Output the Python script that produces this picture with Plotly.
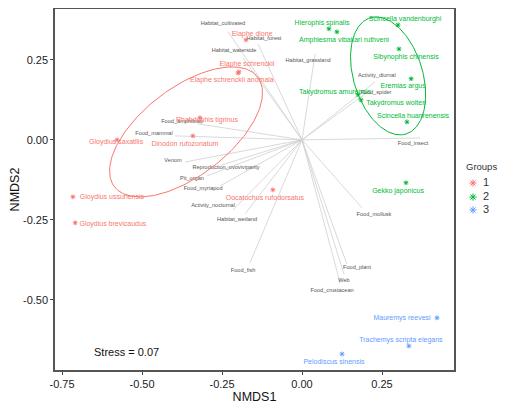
import numpy as np
import plotly.graph_objects as go

# ---------------- data ----------------
species = ["Elaphe dione", "Elaphe schrenckii", "Elaphe schrenckii anomala", "Rhabdophis tigrinus",
           "Dinodon rufozonatum", "Gloydius saxatilis", "Gloydius ussuriensis", "Gloydius brevicaudus",
           "Oocatochus rufodorsatus",
           "Hierophis spinalis", "Amphiesma vibakari ruthveni", "Scincella vandenburghi", "Sibynophis chinensis",
           "Eremias argus", "Takydromus amurensis", "Takydromus wolteri", "Scincella huanrenensis",
           "Gekko japonicus",
           "Mauremys reevesi", "Trachemys scripta elegans", "Pelodiscus sinensis"]
groups = ["1"] * 9 + ["2"] * 9 + ["3"] * 3
nmds1 = [-0.175, -0.197, -0.200, -0.319, -0.341, -0.578, -0.716, -0.709, -0.091,
         0.084, 0.109, 0.300, 0.303, 0.341, 0.175, 0.184, 0.328, 0.325,
         0.422, 0.334, 0.125]
nmds2 = [0.3125, 0.2125, 0.209, 0.069, 0.0125, 0.000, -0.178, -0.259, -0.156,
         0.347, 0.3375, 0.359, 0.284, 0.191, 0.141, 0.125, 0.056, -0.134,
         -0.556, -0.644, -0.669]
label1 = [-0.156, -0.172, -0.219, -0.297, -0.366, -0.581, -0.594, -0.591, -0.116,
          0.0625, 0.131, 0.322, 0.325, 0.316, 0.103, 0.294, 0.347, 0.300,
          0.3125, 0.309, 0.100]
label2 = [0.331, 0.2375, 0.1875, 0.0625, -0.0125, -0.006, -0.178, -0.2625, -0.181,
          0.366, 0.3125, 0.378, 0.259, 0.169, 0.150, 0.116, 0.075, -0.159,
          -0.556, -0.625, -0.694]

traits = ["Habitat_cultivated", "Habitat_forest", "Habitat_waterside", "Habitat_grassland",
          "Activity_diurnal", "Food_spider", "Food_insect", "Food_mollusk", "Food_plant", "Web",
          "Food_crustacean", "Food_fish", "Habitat_wetland", "Activity_nocturnal", "Food_myriapod",
          "Pit_organ", "Reproduction_ovoviviparity", "Venom", "Food_mammal", "Food_amphibian"]
vec1 = [-0.231, -0.1375, -0.184, 0.041, 0.228, 0.206, 0.369, 0.1875, 0.140, 0.131,
        0.119, -0.1625, -0.178, -0.216, -0.256, -0.297, -0.250, -0.366, -0.397, -0.325]
vec2 = [0.3375, 0.300, 0.256, 0.269, 0.181, 0.150, 0.006, -0.2125, -0.3875, -0.419,
        -0.447, -0.384, -0.231, -0.219, -0.144, -0.1125, -0.078, -0.069, 0.0125, 0.050]
vlab1 = [-0.247, -0.119, -0.2125, 0.019, 0.234, 0.231, 0.347, 0.225, 0.172, 0.131,
         0.094, -0.184, -0.203, -0.278, -0.309, -0.344, -0.2375, -0.403, -0.4625, -0.375]
vlab2 = [0.3625, 0.316, 0.278, 0.247, 0.200, 0.147, -0.0125, -0.234, -0.400, -0.440,
         -0.472, -0.409, -0.250, -0.206, -0.153, -0.122, -0.0875, -0.066, 0.019, 0.056]

# ellipse summaries per group: centre, semi-axes, angle (deg)
ell_groups = ["1", "2"]
ell_cx = [-0.3625, 0.269]
ell_cy = [0.025, 0.200]
ell_a = [0.282, 0.190]
ell_b = [0.1375, 0.108]
ell_angle = [37.4, -72.85]

stress_text = "Stress = 0.07"
x_ticks = [-0.75, -0.50, -0.25, 0.00, 0.25]
x_ticklabels = ["-0.75", "-0.50", "-0.25", "0.00", "0.25"]
y_ticks = [-0.50, -0.25, 0.00, 0.25]
y_ticklabels = ["-0.50", "-0.25", "0.00", "0.25"]
legend_groups = ["1", "2", "3"]

colors = {"1": "#F8766D", "2": "#00BA38", "3": "#619CFF"}
FONT = "Liberation Sans, Arial, sans-serif"

# page geometry (the html body adds an 8px offset)
W, H = 501, 403
ML, MR, MT, MB = 47, 0, 1, 41
PANEL_W = 399
area_w = W - ML - MR
main_dom = PANEL_W / area_w

fig = go.Figure()

# vectors
vx, vy = [], []
for a, b in zip(vec1, vec2):
    vx += [0, a, None]
    vy += [0, b, None]
fig.add_trace(go.Scatter(x=vx, y=vy, mode="lines", line=dict(color="#CFCFCF", width=0.8),
                         hoverinfo="skip", showlegend=False))
fig.add_trace(go.Scatter(x=vlab1, y=vlab2, mode="text", text=traits,
                         textfont=dict(family=FONT, size=5.6, color="#555555"),
                         hoverinfo="skip", showlegend=False))

# ellipses
t = np.linspace(0, 2 * np.pi, 200)
for g, cx, cy, a, b, ang in zip(ell_groups, ell_cx, ell_cy, ell_a, ell_b, ell_angle):
    th = np.deg2rad(ang)
    ex = cx + a * np.cos(t) * np.cos(th) - b * np.sin(t) * np.sin(th)
    ey = cy + a * np.cos(t) * np.sin(th) + b * np.sin(t) * np.cos(th)
    fig.add_trace(go.Scatter(x=ex, y=ey, mode="lines", line=dict(color=colors[g], width=1),
                             hoverinfo="skip", showlegend=False))

# species labels and points
for g in legend_groups:
    idx = [i for i, gg in enumerate(groups) if gg == g]
    fig.add_trace(go.Scatter(x=[label1[i] for i in idx], y=[label2[i] for i in idx], mode="text",
                             text=[species[i] for i in idx],
                             textfont=dict(family=FONT, size=7, color=colors[g]),
                             hoverinfo="skip", showlegend=False))
for g in legend_groups:
    idx = [i for i, gg in enumerate(groups) if gg == g]
    fig.add_trace(go.Scatter(x=[nmds1[i] for i in idx], y=[nmds2[i] for i in idx], mode="markers",
                             name=g, showlegend=False,
                             marker=dict(symbol="asterisk-open", size=4,
                                         line=dict(color=colors[g], width=1), color=colors[g])))

# manual legend on a helper axis laid over the right margin (pixel-like coordinates)
leg_y = [183, 197, 210]
for g, yy in zip(legend_groups, leg_y):
    fig.add_trace(go.Scatter(x=[473], y=[yy], mode="markers",
                             xaxis="x2", yaxis="y2", showlegend=False, hoverinfo="skip",
                             marker=dict(symbol="asterisk-open", size=6, color=colors[g],
                                         line=dict(color=colors[g], width=1))))
fig.add_trace(go.Scatter(x=[483] * len(legend_groups), y=leg_y, mode="text", text=legend_groups,
                         textposition="middle right", xaxis="x2", yaxis="y2", showlegend=False,
                         hoverinfo="skip", textfont=dict(family=FONT, size=11, color="#333333")))
fig.add_trace(go.Scatter(x=[466], y=[168], mode="text", text=["Groups"], textposition="middle right",
                         xaxis="x2", yaxis="y2", showlegend=False, hoverinfo="skip",
                         textfont=dict(family=FONT, size=9.5, color="#333333")))

fig.add_annotation(x=-0.547, y=-0.6625, text=stress_text, showarrow=False,
                   font=dict(family=FONT, size=11, color="#111111"))

fig.update_layout(
    width=W, height=H,
    margin=dict(l=ML, r=MR, t=MT, b=MB),
    paper_bgcolor="white", plot_bgcolor="white",
    font=dict(family=FONT, color="#222222"),
    showlegend=False,
    xaxis=dict(domain=[0, main_dom], range=[-0.772, 0.475], tickvals=x_ticks, ticktext=x_ticklabels,
               showgrid=False, zeroline=False, ticks="outside", ticklen=3, tickcolor="#444444",
               tickfont=dict(size=11, color="#222222"),
               showline=True, linecolor="#555555", linewidth=1.5, mirror=True,
               title=dict(text="NMDS1", font=dict(size=12.5, color="#111111"), standoff=2)),
    yaxis=dict(range=[-0.719, 0.409], tickvals=y_ticks, ticktext=y_ticklabels,
               showgrid=False, zeroline=False, ticks="outside", ticklen=3, tickcolor="#444444",
               tickfont=dict(size=11, color="#222222"),
               showline=True, linecolor="#555555", linewidth=1.5, mirror=True,
               title=dict(text="NMDS2", font=dict(size=12.5, color="#111111"), standoff=4)),
    xaxis2=dict(domain=[main_dom, 1], range=[454, 509], visible=False, fixedrange=True),
    yaxis2=dict(anchor="x2", domain=[0, 1], range=[370, 9], visible=False, fixedrange=True),
)

fig.write_html("out.html")
